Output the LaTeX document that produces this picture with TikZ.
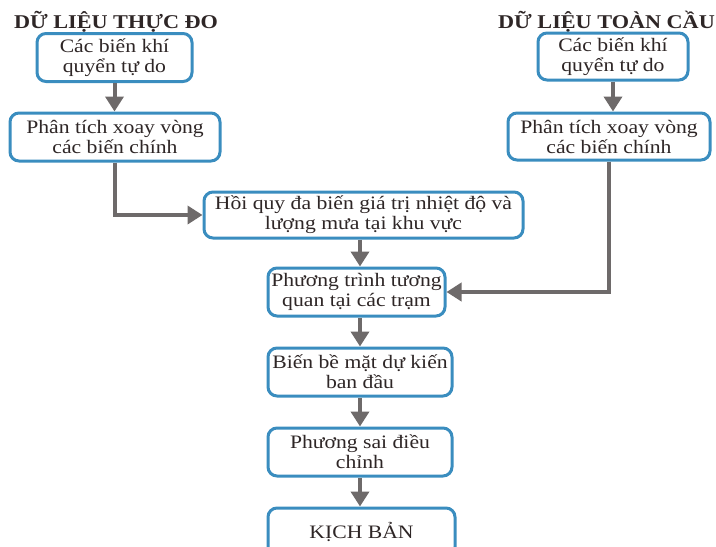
\documentclass[tikz,border=0pt]{standalone}
\usepackage{fontspec}
\setmainfont[FakeStretch=1.14]{Liberation Serif}
\usetikzlibrary{arrows.meta}

\definecolor{boxblue}{HTML}{3A8DBF}
\definecolor{flowgray}{HTML}{6E6A6A}
\definecolor{inkcol}{HTML}{2E2626}

\begin{document}
\begin{tikzpicture}[x=1pt,y=-1pt]
		\fontsize{19}{20}\selectfont
		\tikzstyle{round_block} = [draw=boxblue, line width=3pt, rectangle, rounded corners=9, fill=white, text=inkcol, align=center, inner sep=0pt];
		\tikzstyle{title_block} = [font=\fontsize{19.5}{20}\selectfont\bfseries, text=inkcol, inner sep=0pt];
		\tikzstyle{flow} = [draw=flowgray, line width=4pt, -{Triangle[width=18pt,length=15pt]}];
		\useasboundingbox (0,0) rectangle (716,547);

		\node[title_block] (obsTitle) at (116,22) {DỮ LIỆU THỰC ĐO};
		\node[title_block] (globTitle) at (606.5,22) {DỮ LIỆU TOÀN CẦU};

		\node[round_block, minimum width=155, minimum height=48] (obsVar) at (114.5,57.5) {Các biến khí\\quyển tự do};
		\node[round_block, minimum width=210, minimum height=48] (obsPca) at (115,137) {Phân tích xoay vòng\\các biến chính};

		\node[round_block, minimum width=150, minimum height=47] (globVar) at (613,56.5) {Các biến khí\\quyển tự do};
		\node[round_block, minimum width=202, minimum height=47] (globPca) at (609,136.5) {Phân tích xoay vòng\\các biến chính};

		\node[round_block, minimum width=319, minimum height=46] (regress) at (363.5,215) {Hồi quy đa biến giá trị nhiệt độ và\\lượng mưa tại khu vực};
		\node[round_block, minimum width=177, minimum height=48] (corr) at (356.5,292) {Phương trình tương\\quan tại các trạm};
		\node[round_block, minimum width=184, minimum height=48] (surface) at (360,372) {Biến bề mặt dự kiến\\ban đầu};
		\node[round_block, minimum width=184, minimum height=48] (variance) at (360,452) {Phương sai điều\\chỉnh};
		\node[round_block, minimum width=187, minimum height=48] (scenario) at (361.5,532) {KỊCH BẢN};

		\coordinate (obsBend) at (obsPca.south |- regress.west);
		\coordinate (globBend) at (globPca.south |- corr.east);

		\draw[flow] (obsVar.south) -- (obsVar.south |- obsPca.north);
		\draw[flow] (globVar.south) -- (globVar.south |- globPca.north);
		\draw[flow] (obsPca.south) -- (obsBend) -- (regress.west);
		\draw[flow] (globPca.south) -- (globBend) -- (corr.east);
		\draw[flow] (regress.south -| surface.north) -- (surface.north |- corr.north);
		\draw[flow] (corr.south -| surface.north) -- (surface.north);
		\draw[flow] (surface.south) -- (variance.north);
		\draw[flow] (variance.south) -- (variance.south |- scenario.north);
	\end{tikzpicture}
\end{document}
